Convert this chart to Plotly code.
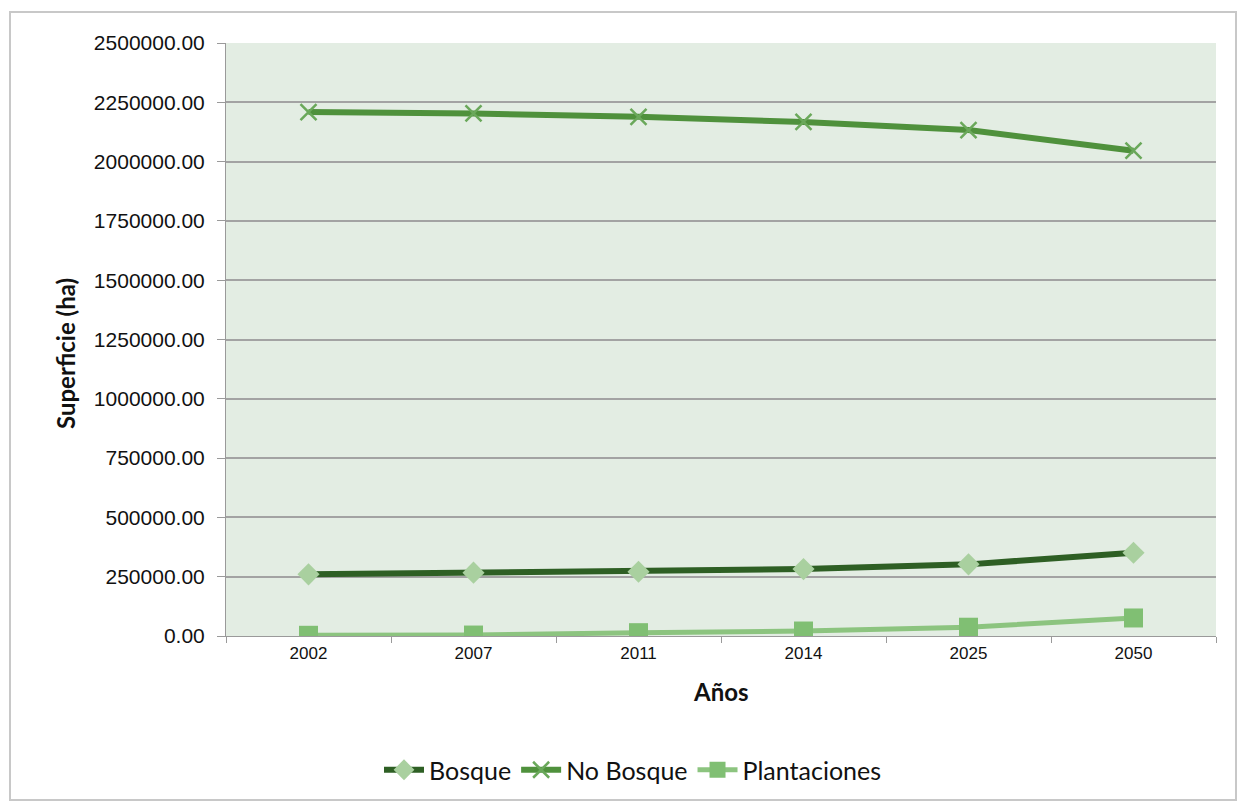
import plotly.graph_objects as go

# Superficie por categoría de uso de suelo (ha)
anios = ["2002", "2007", "2011", "2014", "2025", "2050"]
bosque = [260000, 267000, 271000, 282000, 302000, 351000]
no_bosque = [2209000, 2203000, 2189000, 2167000, 2133000, 2046000]
plantaciones = [3000, 4000, 14000, 21000, 37000, 76000]
y_ticks = [0, 250000, 500000, 750000, 1000000, 1250000, 1500000,
           1750000, 2000000, 2250000, 2500000]

FONT = "Liberation Sans, Arial, sans-serif"
TITLE_FONT = "Lato, Open Sans, sans-serif"

# plot area in pixels: left 226, right 1216, top 43, bottom 636
PW, PH = 990, 593

fig = go.Figure()
fig.add_trace(go.Scatter(
    x=anios, y=bosque, name="Bosque", mode="lines+markers",
    line=dict(color="#2e5f24", width=6),
    marker=dict(symbol="diamond", size=17, color="#a9d09f",
                line=dict(width=0)),
))
fig.add_trace(go.Scatter(
    x=anios, y=no_bosque, name="No Bosque", mode="lines+markers",
    line=dict(color="#4f913c", width=6),
    marker=dict(symbol="x-thin", size=16, color="#6aa85a",
                line=dict(width=2.5, color="#6aa85a")),
))
fig.add_trace(go.Scatter(
    x=anios, y=plantaciones, name="Plantaciones", mode="lines+markers",
    line=dict(color="#8cc47f", width=5),
    marker=dict(symbol="square", size=19, color="#80bf73",
                line=dict(width=0)),
))

fig.update_layout(
    width=1244, height=806,
    margin=dict(l=226, r=28, t=43, b=170),
    paper_bgcolor="white",
    plot_bgcolor="#e3ede3",
    font=dict(family=FONT, color="#111111"),
    showlegend=True,
    legend=dict(orientation="h", x=(633 - 226) / PW, xanchor="center",
                y=(636 - 770) / PH, yanchor="middle",
                font=dict(size=25, family=TITLE_FONT, color="#111111"),
                itemwidth=40, tracegroupgap=0),
    xaxis=dict(
        type="category", tickson="boundaries",
        ticks="outside", ticklen=6, tickcolor="#9a9a9a",
        showline=True, linecolor="#9a9a9a", linewidth=1,
        showgrid=False, tickfont=dict(size=17, family=FONT),
        ticklabelstandoff=2,
        range=[-0.5, 5.5],
    ),
    yaxis=dict(
        range=[0, 2500000], tickvals=y_ticks,
        ticktext=[f"{v:.2f}" for v in y_ticks],
        ticks="outside", ticklen=8, tickcolor="#9a9a9a",
        showline=True, linecolor="#9a9a9a", linewidth=1,
        showgrid=True, gridcolor="#a3a3a3", gridwidth=1.5,
        zeroline=False,
        tickfont=dict(size=21, family=FONT),
        ticklabelstandoff=8,
    ),
    annotations=[
        dict(text="<b>Superficie (ha)</b>", textangle=-90,
             xref="paper", yref="paper",
             x=(65 - 226) / PW, y=(636 - 354) / PH,
             xanchor="center", yanchor="middle", showarrow=False,
             font=dict(size=24, family=TITLE_FONT, color="#111111")),
        dict(text="<b>Años</b>",
             xref="paper", yref="paper",
             x=(721 - 226) / PW, y=(636 - 692) / PH,
             xanchor="center", yanchor="middle", showarrow=False,
             font=dict(size=24, family=TITLE_FONT, color="#111111")),
    ],
    shapes=[dict(
        type="rect", xref="paper", yref="paper",
        x0=-216 / PW, x1=1 + 20 / PW,
        y0=-164 / PH, y1=1 + 31 / PH,
        line=dict(color="#c8c8c8", width=2), fillcolor="rgba(0,0,0,0)",
        layer="below",
    )],
)

fig.write_html("out.html")
